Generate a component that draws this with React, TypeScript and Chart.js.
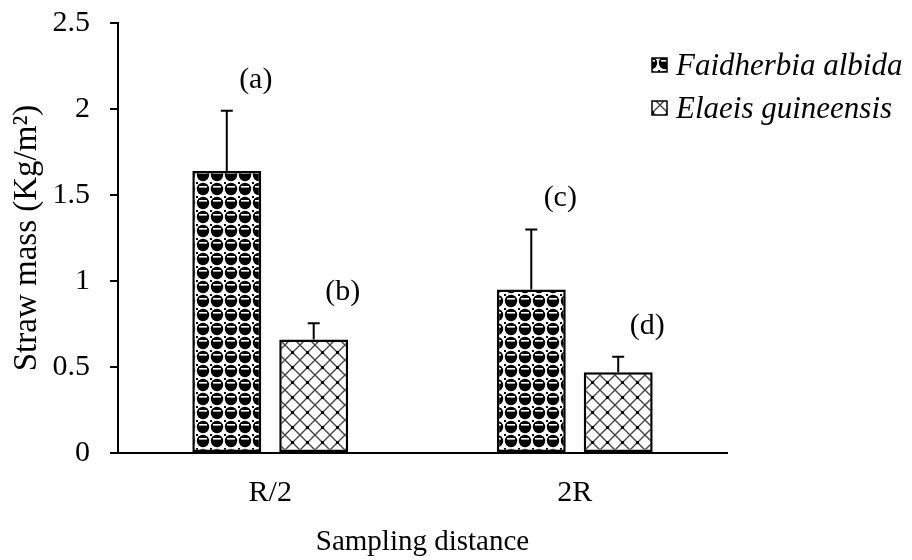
import React, { useEffect, useRef } from "react";
import { Chart, registerables } from "chart.js";

Chart.register(...registerables);

const categories = ["R/2", "2R"];
const seriesNames = ["Faidherbia albida", "Elaeis guineensis"];
const faidherbia = [1.64, 0.95];
const elaeis = [0.66, 0.47];
const faidherbiaErr = [0.35, 0.35];
const elaeisErr = [0.095, 0.09];
const letters = [
  ["(a)", "(c)"],
  ["(b)", "(d)"],
];
const yMin = 0;
const yMax = 2.5;
const yStep = 0.5;

const FONT = "'Liberation Serif', 'Times New Roman', serif";

function spherePattern(ctx: CanvasRenderingContext2D) {
  const s = 14;
  const c = document.createElement("canvas");
  c.width = s;
  c.height = s;
  const g = c.getContext("2d")!;
  g.fillStyle = "#fff";
  g.fillRect(0, 0, s, s);
  g.fillStyle = "#000";
  g.beginPath();
  g.arc(7, 7, 6.2, 0, Math.PI * 2);
  g.fill();
  g.fillStyle = "#fff";
  g.fillRect(3, 4, 8, 1.6);
  g.fillStyle = "#000";
  g.fillRect(0, 0, 2, 2);
  return ctx.createPattern(c, "repeat")!;
}

function diamondPattern(ctx: CanvasRenderingContext2D) {
  const s = 15;
  const c = document.createElement("canvas");
  c.width = s;
  c.height = s;
  const g = c.getContext("2d")!;
  g.fillStyle = "#fff";
  g.fillRect(0, 0, s, s);
  g.strokeStyle = "#444";
  g.lineWidth = 1.4;
  g.beginPath();
  g.moveTo(-1, -1);
  g.lineTo(s + 1, s + 1);
  g.moveTo(s + 1, -1);
  g.lineTo(-1, s + 1);
  g.stroke();
  g.fillStyle = "#000";
  g.fillRect(6, 6, 3, 3);
  return ctx.createPattern(c, "repeat")!;
}

export default function App() {
  const ref = useRef<HTMLCanvasElement>(null);

  useEffect(() => {
    const canvas = ref.current!;
    const ctx = canvas.getContext("2d")!;
    const patterns = [spherePattern(ctx), diamondPattern(ctx)];
    const errs = [faidherbiaErr, elaeisErr];

    const overlay = {
      id: "overlay",
      afterDatasetsDraw(chart: any) {
        const c = chart.ctx;
        const yScale = chart.scales.y;
        c.save();
        chart.data.datasets.forEach((ds: any, i: number) => {
          const meta = chart.getDatasetMeta(i);
          meta.data.forEach((el: any, j: number) => {
            const v = ds.data[j];
            const yTop = yScale.getPixelForValue(v + errs[i][j]);
            c.strokeStyle = "#000";
            c.lineWidth = 2;
            c.beginPath();
            c.moveTo(el.x, el.y);
            c.lineTo(el.x, yTop);
            c.moveTo(el.x - 6, yTop);
            c.lineTo(el.x + 6, yTop);
            c.stroke();
            c.fillStyle = "#000";
            c.font = `30px ${FONT}`;
            c.textAlign = "center";
            c.textBaseline = "middle";
            c.fillText(letters[i][j], el.x + 29, yTop - 31);
          });
        });
        c.restore();
      },
      afterDraw(chart: any) {
        const c = chart.ctx;
        c.save();
        seriesNames.forEach((name, i) => {
          const top = 58 + i * 43;
          c.fillStyle = patterns[i];
          c.fillRect(652, top, 15, 14);
          c.strokeStyle = "#000";
          c.lineWidth = 1.5;
          c.strokeRect(652, top, 15, 14);
          c.fillStyle = "#000";
          c.font = `italic 31px ${FONT}`;
          c.textAlign = "left";
          c.textBaseline = "alphabetic";
          c.fillText(name, 676, 75 + i * 43);
        });
        c.restore();
      },
    };

    const chart = new Chart(canvas, {
      type: "bar",
      data: {
        labels: categories,
        datasets: [
          {
            label: seriesNames[0],
            data: faidherbia,
            backgroundColor: patterns[0],
            borderColor: "#000",
            borderWidth: 2.5,
            borderSkipped: false,
            categoryPercentage: 0.571,
            barPercentage: 0.793,
          },
          {
            label: seriesNames[1],
            data: elaeis,
            backgroundColor: patterns[1],
            borderColor: "#000",
            borderWidth: 2.5,
            borderSkipped: false,
            categoryPercentage: 0.571,
            barPercentage: 0.793,
          },
        ],
      },
      options: {
        responsive: false,
        animation: false,
        layout: { padding: { top: 23, right: 185, left: 0, bottom: 0 } },
        plugins: {
          legend: { display: false },
          tooltip: { enabled: false },
        },
        scales: {
          x: {
            grid: { display: false, drawTicks: false },
            border: { display: true, color: "#000", width: 2 },
            ticks: {
              color: "#000",
              font: { family: FONT, size: 30 },
              padding: 22,
            },
            title: {
              display: true,
              text: "Sampling distance",
              color: "#000",
              font: { family: FONT, size: 29 },
              padding: { top: 0, bottom: 0 },
            },
            afterFit(scale: any) {
              scale.height = 107;
              scale.paddingLeft = 0;
              scale.paddingRight = 0;
            },
          },
          y: {
            min: yMin,
            max: yMax,
            grid: {
              display: true,
              drawOnChartArea: false,
              drawTicks: true,
              tickLength: 8,
              color: "#000",
              lineWidth: 2,
            },
            border: { display: true, color: "#000", width: 2 },
            ticks: {
              stepSize: yStep,
              color: "#000",
              font: { family: FONT, size: 30 },
              padding: 20,
              callback: (v: any) => String(Number(v)),
            },
            title: {
              display: true,
              text: "Straw mass (Kg/m²)",
              color: "#000",
              font: { family: FONT, size: 33 },
              padding: { top: 8, bottom: 0 },
            },
            afterFit(scale: any) {
              scale.width = 118;
              scale.paddingTop = 0;
              scale.paddingBottom = 0;
            },
          },
        },
      },
      plugins: [overlay],
    });
    return () => chart.destroy();
  }, []);

  return (
    <div style={{ position: "absolute", left: 0, top: 0, width: 912, height: 560, background: "#fff" }}>
      <canvas ref={ref} width={912} height={560} />
    </div>
  );
}
